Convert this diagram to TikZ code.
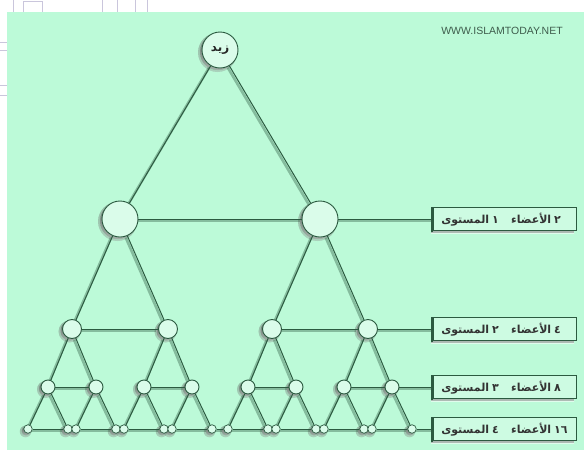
\documentclass[tikz,border=0pt]{standalone}
\usepackage{fontspec}
\setsansfont{Liberation Sans}
\newfontfamily\arabicfont[Script=Arabic]{DejaVu Sans}
\usetikzlibrary{calc}
\definecolor{bgmint}{HTML}{BCFAD8}
\definecolor{ink}{HTML}{2B5A40}
\definecolor{shade}{HTML}{1F4A32}
\definecolor{webline}{HTML}{CAC6DC}
\definecolor{wmark}{HTML}{3E5C4C}
\pgfdeclarelayer{bglayer}
\pgfdeclarelayer{shadowlayer}
\pgfdeclarelayer{linelayer}
\pgfsetlayers{bglayer,shadowlayer,linelayer,main}
\tikzset{
  member/.style={circle, draw=ink, line width=0.9pt, fill=bgmint!55!white, inner sep=0pt},
  lvlroot/.style={member, minimum size=36pt, font=\arabicfont\bfseries\fontsize{12}{12}\selectfont, text=black!85},
  lvlone/.style={member, minimum size=36pt},
  lvltwo/.style={member, minimum size=19pt},
  lvlthree/.style={member, minimum size=14pt},
  lvlfour/.style={member, minimum size=8.5pt, line width=0.7pt},
  link/.style={draw=ink, line width=1pt},
  linkshadow/.style={draw=shade, line width=2.6pt, opacity=0.35, transform canvas={shift={(-1.6pt,-1.8pt)}}},
  levelbox/.style={draw=ink, line width=0.6pt, fill=bgmint!75!white, minimum width=143pt, minimum height=23pt, inner sep=0pt},
  boxword/.style={inner sep=0pt, font=\arabicfont\bfseries\fontsize{11}{11}\selectfont, text=black!80},
  watermark/.style={font=\sffamily\fontsize{10.5}{11}\selectfont, text=wmark, inner sep=0pt},
}
\newcommand\placemember[6]{%
  \begin{pgfonlayer}{shadowlayer}
    \fill[shade, opacity=0.2] ([shift={(-2.5pt,-2.5pt)}]#4,#5) circle[radius=#3+1.5];
    \fill[shade, opacity=0.4] ([shift={(-2pt,-2pt)}]#4,#5) circle[radius=#3];
  \end{pgfonlayer}
  \node[#2] (#1) at (#4,#5) {#6};}
\newcommand\treelink[2]{%
  \begin{pgfonlayer}{shadowlayer}\draw[linkshadow] (#1) -- (#2);\end{pgfonlayer}%
  \begin{pgfonlayer}{linelayer}\draw[link] (#1) -- (#2);\end{pgfonlayer}}
% name, x, y, first number, second number
\newcommand\placebox[5]{%
  \begin{pgfonlayer}{shadowlayer}
    \fill[shade, opacity=0.55] ([shift={(-2.5pt,-2.5pt)}]#2-71.5,#3-11.5) rectangle ([shift={(-2.5pt,-2.5pt)}]#2+71.5,#3+11.5);
  \end{pgfonlayer}
  \node[levelbox] (#1) at (#2,#3) {};
  \draw[ink, line width=2.2pt] ([shift={(-1pt,0pt)}]#1.north west) -- ([shift={(-1pt,-1.5pt)}]#1.south west);
  \node[boxword, anchor=base east] (#1n1) at ([shift={(-6pt,-4pt)}]#1.center) {#4};
  \node[boxword, anchor=base east] (#1w1) at ([xshift=-2.5pt]#1n1.base west) {المستوى};
  \node[boxword, anchor=base west] (#1w2) at ([shift={(6pt,-4pt)}]#1.center) {الأعضاء};
  \node[boxword, anchor=base west] (#1n2) at ([xshift=2.5pt]#1w2.base east) {#5};}
\begin{document}
\begin{tikzpicture}[x=1pt, y=-1pt]
\useasboundingbox (0,0) rectangle (584,450);
\begin{pgfonlayer}{bglayer}
\fill[white] (0,0) rectangle (584,450);
\fill[bgmint] (7,12) rectangle (584,450);
\begin{scope}[webline, line width=0.8pt]
  \draw (13,0) -- (13,12);
  \draw (23,12) -- (23,1) -- (42,1) -- (42,12);
  \draw (102,0) -- (102,12);
  \draw (117,0) -- (117,12);
  \draw (135,0) -- (135,12);
  \draw (147,0) -- (147,12);
  \draw (0,42) -- (7,42);
  \draw (0,50) -- (7,50);
  \draw (0,85) -- (7,85);
  \draw (0,95) -- (7,95);
\end{scope}
\end{pgfonlayer}
\node[watermark] (wm) at (502,31) {WWW.ISLAMTODAY.NET};
% members
\placemember{r}{lvlroot}{18}{220}{50}{زيد}
\placemember{a1}{lvlone}{18}{120}{219}{}
\placemember{a2}{lvlone}{18}{320}{219}{}
\foreach \i/\x in {1/72,2/168,3/272,4/368}
  {\placemember{b\i}{lvltwo}{9.5}{\x}{329}{}}
\foreach \i/\x in {1/48,2/96,3/144,4/192,5/248,6/296,7/344,8/392}
  {\placemember{c\i}{lvlthree}{7}{\x}{387}{}}
\foreach \i/\x in {1/28,2/68,3/76,4/116,5/124,6/164,7/172,8/212,9/228,10/268,11/276,12/316,13/324,14/364,15/372,16/412}
  {\placemember{d\i}{lvlfour}{4.25}{\x}{429}{}}
% level boxes (words laid out left to right, as the picture prints them)
\placebox{box1}{505}{219}{١}{٢}
\placebox{box2}{505}{329}{٢}{٤}
\placebox{box3}{505}{387}{٣}{٨}
\placebox{box4}{505}{429}{٤}{١٦}
% connectors
\treelink{r}{a1}
\treelink{r}{a2}
\treelink{a1}{a2}
\treelink{a2}{box1}
\treelink{a1}{b1}
\treelink{a1}{b2}
\treelink{a2}{b3}
\treelink{a2}{b4}
\treelink{b1}{b2}
\treelink{b3}{b4}
\treelink{b4}{box2}
\foreach \k in {1,...,4}{%
  \pgfmathtruncatemacro\lo{2*\k-1}\pgfmathtruncatemacro\hi{2*\k}%
  \treelink{b\k}{c\lo}\treelink{b\k}{c\hi}\treelink{c\lo}{c\hi}}
\treelink{c8}{box3}
\foreach \k in {1,...,8}{%
  \pgfmathtruncatemacro\lo{2*\k-1}\pgfmathtruncatemacro\hi{2*\k}%
  \treelink{c\k}{d\lo}\treelink{c\k}{d\hi}}
\foreach \k in {1,...,15}{%
  \pgfmathtruncatemacro\n{\k+1}%
  \treelink{d\k}{d\n}}
\treelink{d16}{box4}
\end{tikzpicture}
\end{document}
